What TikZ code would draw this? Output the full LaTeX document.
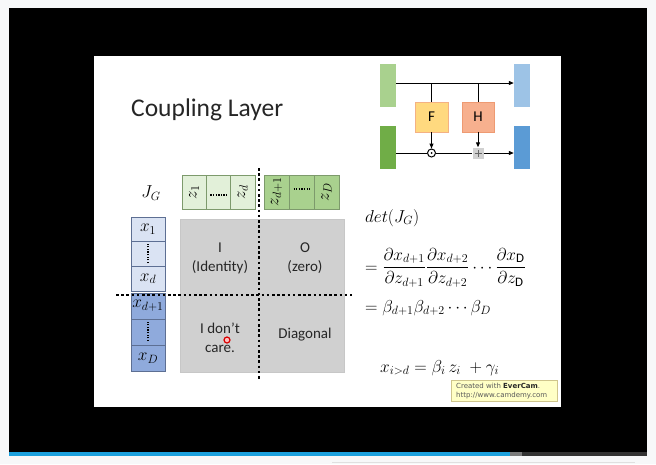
\documentclass[tikz,border=0pt]{standalone}
\usepackage{amsmath}
\usepackage{fontspec}
\setmainfont{Carlito}
\newfontfamily\tagfont{DejaVu Sans}
\usetikzlibrary{arrows.meta}

\definecolor{pagebg}{HTML}{F7F8F9}
\definecolor{barblue}{HTML}{1BA1DE}
\definecolor{bargrey}{HTML}{7A7A7A}
\definecolor{bardark}{HTML}{333333}
\definecolor{inLG}{HTML}{A9D18E}
\definecolor{inDG}{HTML}{70AD47}
\definecolor{outLB}{HTML}{9DC3E6}
\definecolor{outDB}{HTML}{5B9BD5}
\definecolor{fFill}{HTML}{FFD97F}
\definecolor{fDraw}{HTML}{F4B183}
\definecolor{hFill}{HTML}{F7B08E}
\definecolor{hDraw}{HTML}{EE9A72}
\definecolor{zLight}{HTML}{E2F0D9}
\definecolor{zDark}{HTML}{A9D18E}
\definecolor{zLine}{HTML}{7D9A6C}
\definecolor{xLight}{HTML}{DAE3F3}
\definecolor{xDark}{HTML}{8FAADC}
\definecolor{xLine}{HTML}{5D6F93}
\definecolor{matGrey}{HTML}{D0D0D0}
\definecolor{tagFill}{HTML}{FFFFC6}
\definecolor{tagDraw}{HTML}{CFC58C}

\tikzset{
  bar/.style={draw=none, inner sep=0pt, minimum width=16pt, minimum height=43pt},
  fbox/.style={draw=#1, line width=0.6pt, inner sep=0pt, minimum width=33pt, minimum height=30pt,
               font=\fontsize{15}{18}\selectfont},
  flow/.style={line width=1pt, -{Triangle[length=5pt,width=4pt]}},
  wire/.style={line width=1pt},
  zcell/.style={draw=zLine, line width=0.6pt, inner sep=0pt, minimum height=34pt,
                font=\fontsize{16.5}{18}\selectfont},
  xcell/.style={draw=xLine, line width=0.6pt, inner sep=0pt, minimum width=34pt,
                font=\fontsize{16.5}{18}\selectfont},
  celldots/.style={line width=1.3pt, dash pattern=on 1.3pt off 1.3pt},
  splitline/.style={line width=2.6pt, dash pattern=on 2.6pt off 2.6pt},
  quad/.style={align=center, font=\fontsize{15}{19}\selectfont, text=black!85},
  eq/.style={anchor=base west, inner sep=0pt, font=\fontsize{18.5}{20}\selectfont},
}

\begin{document}
\begin{tikzpicture}[x=1pt,y=-1pt]
% page, video frame and progress bar
\fill[pagebg] (0,0) rectangle (656,464);
\fill[black] (9,8) rectangle (647,452);
\fill[barblue] (9,452) rectangle (510,456);
\fill[bargrey] (510,452) rectangle (522,456);
\fill[bardark] (522,452) rectangle (647,456);
\draw[black!12, line width=0.8pt] (332,462) -- (635,462);

% slide
\fill[white] (94,56) rectangle (561,407);

\node[anchor=base west, inner sep=0pt, font=\fontsize{25.5}{28}\selectfont, text=black!85]
  (title) at (131,116) {Coupling Layer};

% ---- coupling block sketch ----
\node[bar, fill=inLG]  (lg) at (388,85)  {};
\node[bar, fill=inDG]  (dg) at (388,147) {};
\node[bar, fill=outLB] (lb) at (522,85)  {};
\node[bar, fill=outDB] (db) at (522,147) {};
\node[fbox=fDraw, fill=fFill] (F) at (431.5,117) {F};
\node[fbox=hDraw, fill=hFill, minimum width=32pt] (H) at (478,117) {H};
\node[circle, draw, line width=1pt, inner sep=0pt, minimum size=8pt] (mul) at (F.center |- 0,153) {};
\fill (mul.center) circle (1pt);
\node[fill=black!18, inner sep=0pt, minimum size=11pt] (add) at (H.center |- 0,153) {};

\coordinate (topL) at ([yshift=2pt]lg.east);
\coordinate (topR) at ([yshift=2pt]lb.west);
\coordinate (botL) at (dg.east |- mul);
\coordinate (botR) at (db.west |- mul);
\coordinate (tapF) at (F.north |- topL);
\coordinate (tapH) at (H.north |- topL);
\draw[flow] (topL) -- (topR);
\draw[wire] (tapF) -- (F.north);
\draw[wire] (tapH) -- (H.north);
\draw[flow] (F.south) -- (mul.north);
\draw[flow] (H.south) -- (add.north);
\draw[wire] (botL) -- (mul.west);
\draw[wire] (mul.east) -- (add.west);
\draw[flow] (add.east) -- (botR);
\draw[black!60, line width=0.6pt] ([xshift=-3.5pt]add.center) -- ([xshift=3.5pt]add.center)
  ([yshift=-3.5pt]add.center) -- ([yshift=3.5pt]add.center);

% ---- Jacobian blocks ----
\node[font=\fontsize{18.5}{20}\selectfont] (jg) at (151,193) {$J_G$};

\node[fill=matGrey, draw=black!22, line width=0.6pt, minimum width=164pt, minimum height=153pt,
      inner sep=0pt] (mat) at (262,295.5) {};

\node[zcell, fill=zLight, minimum width=24.3pt] (z1)  at (194.15,192) {\rotatebox{90}{$z_1$}};
\node[zcell, fill=zLight, minimum width=24.3pt] (z2)  at (218.45,192) {};
\node[zcell, fill=zLight, minimum width=24.3pt] (zd)  at (242.75,192) {\rotatebox{90}{$z_d$}};
\node[zcell, fill=zDark,  minimum width=25pt]   (zd1) at (276.5,192)  {\rotatebox{90}{$z_{d+1}$}};
\node[zcell, fill=zDark,  minimum width=25pt]   (zd2) at (301.5,192)  {};
\node[zcell, fill=zDark,  minimum width=25pt]   (zD)  at (326.5,192)  {\rotatebox{90}{$z_D$}};
\draw[celldots] ([xshift=-8pt,yshift=-3pt]z2.center)  -- ([xshift=9pt,yshift=-3pt]z2.center);
\draw[celldots] ([xshift=-8pt,yshift=3pt]zd2.center) -- ([xshift=9pt,yshift=3pt]zd2.center);

\node[xcell, fill=xLight, minimum height=24.67pt] (x1)  at (148,229.3) {$x_1$};
\node[xcell, fill=xLight, minimum height=24.67pt] (x2)  at (148,254)   {};
\node[xcell, fill=xLight, minimum height=24.67pt] (xd)  at (148,278.7) {$x_d$};
\node[xcell, fill=xDark,  minimum height=26pt]    (xd1) at (148,306)   {$x_{d+1}$};
\node[xcell, fill=xDark,  minimum height=26pt]    (xd2) at (148,332)   {};
\node[xcell, fill=xDark,  minimum height=26pt]    (xD)  at (148,358)   {$x_D$};
\draw[celldots] ([yshift=-9pt]x2.center)  -- ([yshift=10pt]x2.center);
\draw[celldots] ([yshift=-9pt]xd2.center) -- ([yshift=10pt]xd2.center);

\node[quad] (qI) at (220,258) {I\\(Identity)};
\node[quad] (qO) at (305,258) {O\\(zero)};
\node[quad] (qC) at (220,338) {I don’t\\care.};
\node[quad] (qD) at (305,335) {Diagonal};

\coordinate (vsT) at (259,168);
\coordinate (vsB) at (259,380);
\coordinate (hsL) at (116,295);
\coordinate (hsR) at (352,295);
\draw[splitline] (vsT) -- (vsB);
\draw[splitline] (hsL) -- (hsR);

% pointer mark
\node[circle, draw=red!85!black, fill=red!25, line width=1.2pt, inner sep=0pt,
      minimum size=6pt] (ptr) at (227,340) {};

% ---- determinant ----
\node[eq] (det) at (365,222) {$det(J_G)$};
\node[eq] (prod) at (365,272)
  {$=\dfrac{\partial x_{d+1}}{\partial z_{d+1}}\dfrac{\partial x_{d+2}}{\partial z_{d+2}}\cdots\dfrac{\partial x_{\mathrm{D}}}{\partial z_{\mathrm{D}}}$};
\node[eq] (beta) at (365,312) {$=\beta_{d+1}\beta_{d+2}\cdots\beta_D$};
\node[eq] (aff) at (380,372) {$x_{i>d}=\beta_i\,z_i\;+\gamma_i$};

% recorder stamp
\node[fill=tagFill, draw=tagDraw, line width=0.8pt, minimum width=106pt, minimum height=21pt,
      inner sep=0pt] (tag) at (504,390.5) {};
\node[anchor=west, inner sep=0pt, align=left, text=black!65,
      font=\tagfont\fontsize{7}{9.5}\selectfont] (tagtext) at (456,391)
  {Created with \textbf{\color{black!85}EverCam}.\\http://www.camdemy.com};
\end{tikzpicture}
\end{document}
